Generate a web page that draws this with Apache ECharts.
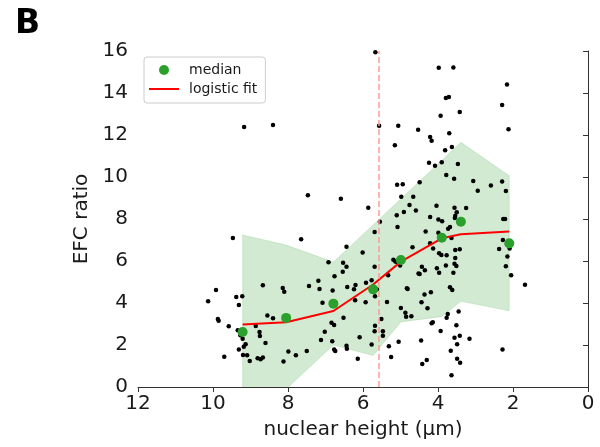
<!DOCTYPE html>
<html>
<head>
<meta charset="utf-8">
<title>EFC ratio vs nuclear height</title>
<script src="https://cdn.jsdelivr.net/npm/echarts@6/dist/echarts.min.js"></script>
<style>
  html, body { margin: 0; padding: 0; background: #fff; }
  #main { width: 600px; height: 447px; }
</style>
</head>
<body>
<div id="main"></div>
<script>
// individual cells: [nuclear height (um), EFC ratio]
var cells = [
  [9.17,12.38],[8.40,12.48],[7.47,9.13],[6.59,8.97],[5.67,15.94],[3.98,15.20],[3.59,15.22],[2.16,14.40],
  [3.79,13.76],[3.71,13.81],[2.29,13.43],[3.42,13.10],[3.93,12.92],[5.57,12.44],[5.06,12.44],[4.53,12.25],
  [2.12,12.27],[3.70,12.08],[4.21,11.90],[4.17,11.73],[5.15,11.51],[3.63,11.43],[3.81,11.27],[4.24,10.68],
  [3.90,10.70],[4.08,10.54],[3.47,10.62],[3.78,10.10],[3.57,9.92],[3.06,9.81],[2.59,9.60],[2.29,9.78],
  [2.19,9.33],[2.94,9.35],[5.09,9.63],[4.94,9.65],[4.49,9.75],[4.98,9.06],[4.66,9.06],[4.76,8.67],
  [4.91,8.33],[4.59,8.41],[4.04,8.63],[3.56,8.54],[3.25,8.52],[3.50,8.32],[5.10,8.18],[4.21,8.10],
  [3.54,8.16],[3.55,8.05],[5.86,8.54],[3.99,7.98],[3.89,7.89],[2.26,8.00],[2.21,8.00],
  [9.47,7.10],[7.65,7.03],[6.44,6.68],[8.67,4.84],[8.14,4.71],[8.10,4.54],[9.92,4.62],[10.13,4.08],
  [9.38,4.29],[9.22,4.32],[9.31,3.90],[9.87,3.24],[9.85,3.16],[9.58,2.89],[8.55,3.41],[8.40,3.27],
  [8.86,2.90],[9.34,2.70],[8.76,2.62],[8.75,2.43],[9.27,2.46],[9.21,2.30],[8.60,2.10],[9.13,2.03],
  [9.18,1.92],[9.31,1.79],[7.99,1.69],[7.79,1.51],[9.20,1.52],[9.09,1.51],[9.70,1.44],[8.81,1.37],
  [8.73,1.32],[8.67,1.41],[9.02,1.24],[8.12,1.22],[7.50,1.71],[7.44,4.81],[7.19,5.06],[7.16,4.67],
  [6.92,5.94],[7.08,4.01],[7.02,2.63],[7.12,2.24],[6.84,3.06],[6.77,2.95],[6.82,2.18],[6.77,1.79],
  [6.74,1.71],[6.53,5.92],[6.44,5.73],[6.54,5.49],[6.76,5.27],[6.81,4.59],[6.42,4.76],[6.52,3.30],
  [6.44,1.97],[6.43,1.82],[6.24,4.65],[6.20,4.86],[6.21,4.13],[6.14,1.35],
  [5.55,7.87],[5.08,7.62],[5.69,7.38],[4.68,6.65],[6.01,6.41],[5.69,5.73],[5.19,6.06],[5.14,5.98],
  [5.09,5.95],[5.01,5.78],[5.33,5.32],[5.92,4.97],[5.77,5.08],[5.63,4.65],[5.68,4.32],[4.83,4.70],
  [5.93,4.03],[5.36,4.05],[4.99,3.76],[4.87,3.54],[4.85,3.35],[4.71,3.37],[5.51,3.24],[5.68,2.92],
  [5.47,2.65],[5.47,2.44],[5.69,2.65],[6.09,2.37],[5.77,2.02],[5.31,1.94],[5.05,2.16],[5.25,1.43],
  [4.33,7.40],[3.73,7.54],[3.68,7.62],[3.99,7.35],[3.95,7.22],[3.64,7.10],[4.21,6.84],[4.13,6.59],
  [3.97,6.37],[3.91,6.29],[3.77,6.27],[3.54,6.52],[3.42,6.56],[3.54,6.14],[3.56,5.87],[3.51,5.76],
  [3.79,5.78],[4.03,5.65],[3.97,5.44],[3.59,5.44],[4.43,5.73],[4.35,5.56],[4.52,5.40],[4.49,5.38],
  [4.81,4.67],[4.36,4.41],[4.19,4.51],[3.68,4.75],[3.62,4.62],[4.44,4.03],[4.28,3.75],[3.74,3.48],
  [3.77,3.30],[3.45,3.59],[4.14,3.08],[4.17,3.03],[3.51,2.94],[3.93,2.67],[3.42,2.44],[3.56,2.35],
  [3.49,2.03],[3.16,2.30],[4.45,2.22],[3.66,1.73],[2.28,1.78],[4.30,1.29],[4.42,1.10],[3.49,1.35],
  [3.41,1.16],[3.64,0.56],[2.37,6.57],[2.27,7.00],[2.16,6.78],[2.09,6.59],[2.15,6.21],[2.19,5.75],
  [2.05,5.32],[1.68,4.87]
];

// binned medians, logistic fit and spread band
var binX   = [9.21, 8.05, 6.79, 5.73, 4.99, 3.90, 3.39, 2.10];
var median = [2.62, 3.29, 3.97, 4.65, 6.05, 7.11, 7.87, 6.84];
var fit    = [2.98, 3.08, 3.62, 4.88, 5.97, 7.08, 7.27, 7.41];
var bandLo = [-0.8, -0.1, 2.00, 1.50, 3.10, 3.35, 4.08, 3.63];
var bandHi = [7.24, 6.76, 5.95, 7.72, 8.96, 10.79, 11.65, 10.06];

var threshold = 5.57;
var xTicks = [0, 12, 2];
var yTicks = [0, 16, 2];

var chart = echarts.init(document.getElementById('main'));

var axisText = { color: '#1a1a1a', fontSize: 20, fontFamily: 'DejaVu Sans' };

var option = {
  animation: false,
  title: {
    text: 'B', left: 10, top: 3,
    textStyle: { fontSize: 33, fontWeight: 'bold', color: '#000', fontFamily: 'DejaVu Sans' }
  },
  legend: {
    data: [
      { name: 'median', icon: 'circle' },
      { name: 'logistic fit', icon: 'path://M0,0 L30,0 L30,2 L0,2 Z' }
    ],
    orient: 'vertical',
    left: 144, top: 57,
    itemWidth: 30, itemHeight: 10, itemGap: 5,
    padding: [6, 8, 7, 5],
    borderColor: '#ccc', borderWidth: 1, borderRadius: 3,
    backgroundColor: 'rgba(255,255,255,0.8)',
    textStyle: { fontSize: 14, color: '#1a1a1a', fontFamily: 'DejaVu Sans', padding: [0, 0, 0, 5] }
  },
  grid: { left: 138, right: 12, top: 51, bottom: 60 },
  xAxis: {
    type: 'value', inverse: true,
    min: xTicks[0], max: xTicks[1], interval: xTicks[2],
    name: 'nuclear height (\u03bcm)', nameLocation: 'middle', nameGap: 33,
    nameTextStyle: axisText,
    axisLine: { lineStyle: { color: '#333', width: 1 } },
    axisTick: { length: 5, lineStyle: { color: '#333' } },
    axisLabel: Object.assign({ margin: 7 }, axisText),
    splitLine: { show: false }
  },
  yAxis: {
    type: 'value',
    min: yTicks[0], max: yTicks[1], interval: yTicks[2],
    name: 'EFC ratio', nameLocation: 'middle', nameGap: 38,
    nameTextStyle: axisText,
    axisLine: { show: true, lineStyle: { color: '#333', width: 1 } },
    axisTick: { show: true, length: 5, lineStyle: { color: '#333' } },
    axisLabel: Object.assign({ margin: 10 }, axisText),
    splitLine: { show: false }
  },
  series: [
    {
      name: 'band',
      type: 'custom',
      clip: true,
      silent: true,
      data: binX.map(function (x, i) { return [x, bandLo[i], bandHi[i]]; }),
      encode: { x: 0, y: [1, 2] },
      renderItem: function (params, api) {
        if (params.dataIndex !== 0) return;
        var pts = [];
        for (var i = 0; i < binX.length; i++) pts.push(api.coord([binX[i], bandHi[i]]));
        for (var j = binX.length - 1; j >= 0; j--) pts.push(api.coord([binX[j], bandLo[j]]));
        return {
          type: 'polygon',
          shape: { points: pts },
          style: { fill: 'rgba(44,160,44,0.22)', stroke: 'rgba(44,160,44,0.15)', lineWidth: 1 }
        };
      },
      z: 1
    },
    {
      name: 'cells',
      type: 'scatter',
      data: cells,
      symbolSize: 4.5,
      itemStyle: { color: '#000', opacity: 1 },
      markLine: {
        silent: true,
        symbol: 'none',
        label: { show: false },
        lineStyle: { color: '#ff9a9a', type: [6, 3], width: 1.5 },
        data: [{ xAxis: threshold }]
      },
      z: 2
    },
    {
      name: 'logistic fit',
      type: 'line',
      data: binX.map(function (x, i) { return [x, fit[i]]; }),
      showSymbol: false,
      symbol: 'none',
      lineStyle: { color: '#ff0000', width: 2 },
      itemStyle: { color: '#ff0000' },
      z: 3
    },
    {
      name: 'median',
      type: 'scatter',
      data: binX.map(function (x, i) { return [x, median[i]]; }),
      symbolSize: 10,
      itemStyle: { color: '#2ca02c', opacity: 1 },
      z: 4
    }
  ]
};

chart.setOption(option);
</script>
</body>
</html>
